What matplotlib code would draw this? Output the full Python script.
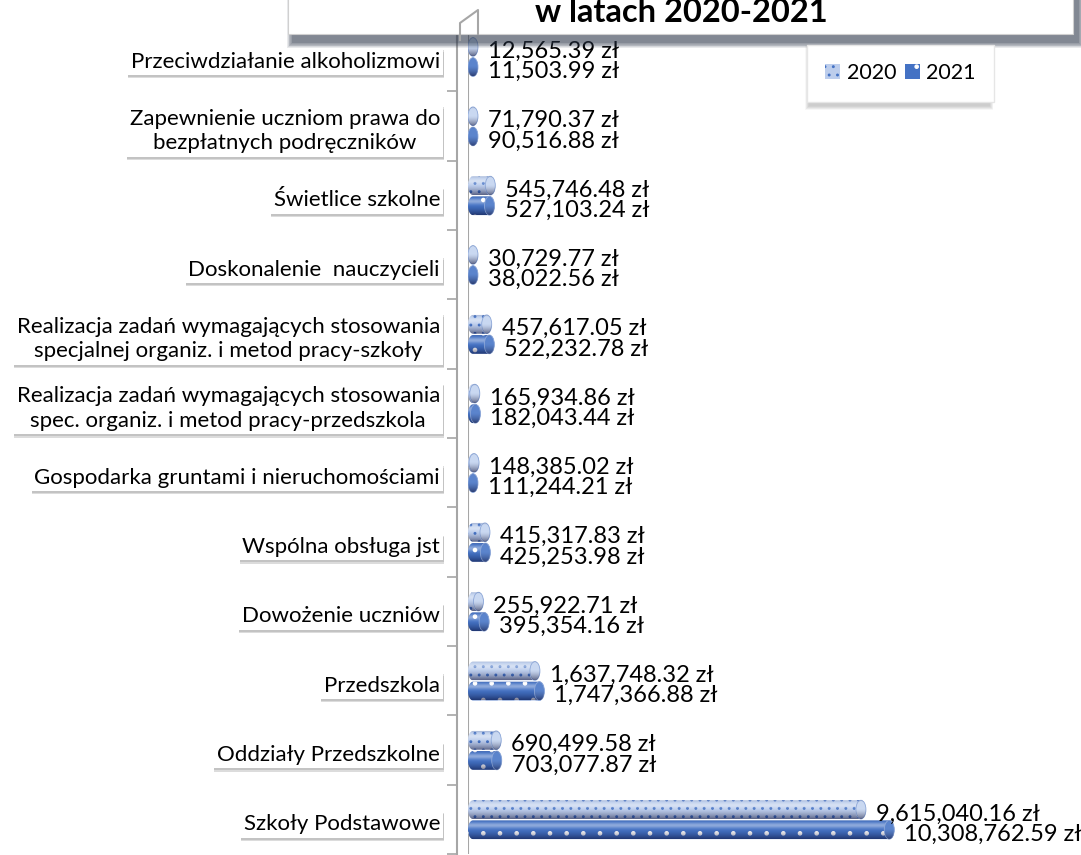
import numpy as np
import matplotlib
matplotlib.use("Agg")
import matplotlib.pyplot as plt
from matplotlib.path import Path
from matplotlib.patches import PathPatch, Ellipse, Rectangle, Patch
from matplotlib.lines import Line2D
from matplotlib import patheffects as pe
from matplotlib.transforms import blended_transform_factory

plt.rcParams['font.family'] = ['Lato', 'DejaVu Sans']
plt.rcParams['hatch.linewidth'] = 0.9

# data, top to bottom as in the chart
categories = [
    "Przeciwdziałanie alkoholizmowi",
    "Zapewnienie uczniom prawa do\nbezpłatnych podręczników",
    "Świetlice szkolne",
    "Doskonalenie  nauczycieli",
    "Realizacja zadań wymagających stosowania\nspecjalnej organiz. i metod pracy-szkoły",
    "Realizacja zadań wymagających stosowania\nspec. organiz. i metod pracy-przedszkola",
    "Gospodarka gruntami i nieruchomościami",
    "Wspólna obsługa jst",
    "Dowożenie uczniów",
    "Przedszkola",
    "Oddziały Przedszkolne",
    "Szkoły Podstawowe",
]
values_2020 = [12565.39, 71790.37, 545746.48, 30729.77, 457617.05, 165934.86,
               148385.02, 415317.83, 255922.71, 1637748.32, 690499.58, 9615040.16]
values_2021 = [11503.99, 90516.88, 527103.24, 38022.56, 522232.78, 182043.44,
               111244.21, 425253.98, 395354.16, 1747366.88, 703077.87, 10308762.59]
years = ["2020", "2021"]
title_line = "w latach 2020-2021"

W, H = 1081, 855
fig = plt.figure(figsize=(W / 100, H / 100), dpi=100)


def fx(x):
    return x / W


def fy(y):
    return 1 - y / H


def soft_shadow(x0, y0, x1, y1, dx, dy, blur, color, alpha, n=8, z=1):
    # fake blurred shadow: stacked translucent rectangles (pixel coords)
    for k in range(n):
        e = blur * (1 - k / n)
        r = Rectangle((fx(x0 + dx - e), fy(y1 + dy + e)), (x1 - x0 + 2 * e) / W,
                      (y1 - y0 + 2 * e) / H, transform=fig.transFigure,
                      facecolor=color, edgecolor='none', alpha=alpha / n, zorder=z)
        fig.patches.append(r)


ax_left, ax_top, ax_bottom = 468, 22, 854
ax = fig.add_axes([fx(ax_left), fy(ax_bottom), 1 - fx(ax_left), (ax_bottom - ax_top) / H])
xmax = 15.0e6
n = len(categories)
px_x = (W - ax_left) / xmax
cap = 5 / px_x

styles = [
    dict(face='#bccdec', dots='#4472c4', hatch='..', end='#c9d8f1', dy=-0.14),
    dict(face='#4472c4', dots='white', hatch='.', end='#5b84cc', dy=0.15),
]
bar_h = 0.27

prof = np.linspace(-1, 1, 60)
hl = np.zeros((60, 1, 4))
hl[..., :3] = 1
hl[:, 0, 3] = 0.4 * np.exp(-((prof + 0.45) / 0.3) ** 2)
sh = np.zeros((60, 1, 4))
sh[..., 2] = 0.15
sh[:, 0, 3] = 0.45 * np.clip(prof + 0.1, 0, None) ** 1.5 + 0.1 * np.clip(-prof - 0.8, 0, None) * 5


def cylinder(y, v, st):
    b = bar_h / 2
    rc = max(v, cap)
    t1 = np.linspace(-np.pi / 2, np.pi / 2, 30)
    t2 = np.linspace(np.pi / 2, 3 * np.pi / 2, 30)
    right = np.column_stack([rc + cap * np.cos(t1), y + b * np.sin(t1)])
    left = np.column_stack([cap + cap * np.cos(t2), y + b * np.sin(t2)])
    verts = np.vstack([right, left, right[:1]])
    codes = [Path.MOVETO] + [Path.LINETO] * (len(verts) - 2) + [Path.CLOSEPOLY]
    path = Path(verts, codes)
    body = PathPatch(path, facecolor=st['face'], edgecolor='none', zorder=3)
    ax.add_patch(body)
    ax.add_patch(PathPatch(path, facecolor='none', edgecolor=st['dots'], hatch=st['hatch'],
                           lw=0, zorder=4))
    for img in (hl, sh):
        im = ax.imshow(img, extent=(0, rc + cap, y + b, y - b), aspect='auto',
                       interpolation='bilinear', zorder=5)
        im.set_clip_path(body)
    end = Ellipse((rc, y), 2 * cap, bar_h, facecolor=st['end'], edgecolor='#8fa9d9',
                  lw=0.6, zorder=6)
    ax.add_patch(end)
    im = ax.imshow(sh, extent=(rc - cap, rc + cap, y + b, y - b), aspect='auto',
                   interpolation='bilinear', zorder=7)
    im.set_clip_path(end)
    return rc + cap


for i in range(n):
    for vals, st in zip((values_2020, values_2021), styles):
        y = i + st['dy']
        xe = cylinder(y, vals[i], st)
        ax.annotate(f"{vals[i]:,.2f} zł", xy=(xe, y), xytext=(10, -11),
                    textcoords='offset pixels', ha='left', va='baseline',
                    fontsize=17, color='black', zorder=8, annotation_clip=False)

ax.set_xlim(0, xmax)
ax.set_ylim(n - 0.5, -0.5)
for s in ('top', 'right', 'bottom'):
    ax.spines[s].set_visible(False)
ax.spines['left'].set_position(('outward', 8))
ax.spines['left'].set_color('#a6a6a6')
ax.spines['left'].set_linewidth(1.5)
ax.axvline(0, color='#a6a6a6', lw=1.5, zorder=2)
ax.set_xticks([])
ax.set_yticks([])
ax.set_yticks(np.arange(0.5, n, 1), minor=True)
ax.tick_params(axis='y', which='minor', length=7, width=1.2, color='#a6a6a6',
               direction='out', labelleft=False)
ax.patch.set_alpha(0)

# category labels with shadowed white boxes
trans = blended_transform_factory(ax.transAxes, ax.transData)
for i, cat in enumerate(categories):
    t = ax.annotate(cat, xy=(0, i), xycoords=trans, xytext=(-28, -5),
                    textcoords='offset pixels', ha='right', va='center',
                    multialignment='center', fontsize=16, linespacing=1.3,
                    annotation_clip=False, zorder=8,
                    bbox=dict(boxstyle='square,pad=0.15', fc='white', ec='none'))
    t.get_bbox_patch().set_path_effects([
        pe.SimplePatchShadow(offset=(0.5, -2.5), shadow_rgbFace='#8c8c8c', alpha=0.3),
        pe.SimplePatchShadow(offset=(0.5, -1.5), shadow_rgbFace='#8c8c8c', alpha=0.3),
        pe.Normal()])

# title box (upper part lies outside the picture)
soft_shadow(288, -30, 1073, 34, 5, 8, 6, '#2a3548', 0.8, z=1)
fig.patches.append(Rectangle((fx(288), fy(34)), (1073 - 288) / W, 64 / H,
                             transform=fig.transFigure, facecolor='white',
                             edgecolor='#d0d0d0', lw=0.8, zorder=2))
fig.text(fx(681), fy(22), title_line, ha='center', va='baseline', fontsize=23.5,
         fontweight='bold', zorder=3)

# wall top in perspective
fig.lines.append(Line2D([fx(x) for x in (460, 460, 478, 478)], [fy(y) for y in (40, 23, 10, 34)],
                        transform=fig.transFigure, color='#a6a6a6', lw=1.5, zorder=4))

# legend
soft_shadow(807, 45, 987, 102, 2, 4, 4, '#8c8c8c', 0.5, z=1)
handles = [Patch(facecolor=st['face'], edgecolor=st['dots'], hatch=st['hatch'], lw=0)
           for st in styles]
leg = fig.legend(handles, years, loc='upper left', bbox_to_anchor=(fx(807), fy(45)),
                 bbox_transform=fig.transFigure, ncol=2, fontsize=15.5, frameon=True,
                 fancybox=False, borderaxespad=0, borderpad=0.85, handlelength=0.7,
                 handleheight=0.7, handletextpad=0.3, columnspacing=0.4)
leg.get_frame().set_edgecolor('#e6e6e6')
leg.get_frame().set_facecolor('white')
leg.get_frame().set_alpha(1)
leg.set_zorder(5)

fig.savefig("out.png", dpi=100)
